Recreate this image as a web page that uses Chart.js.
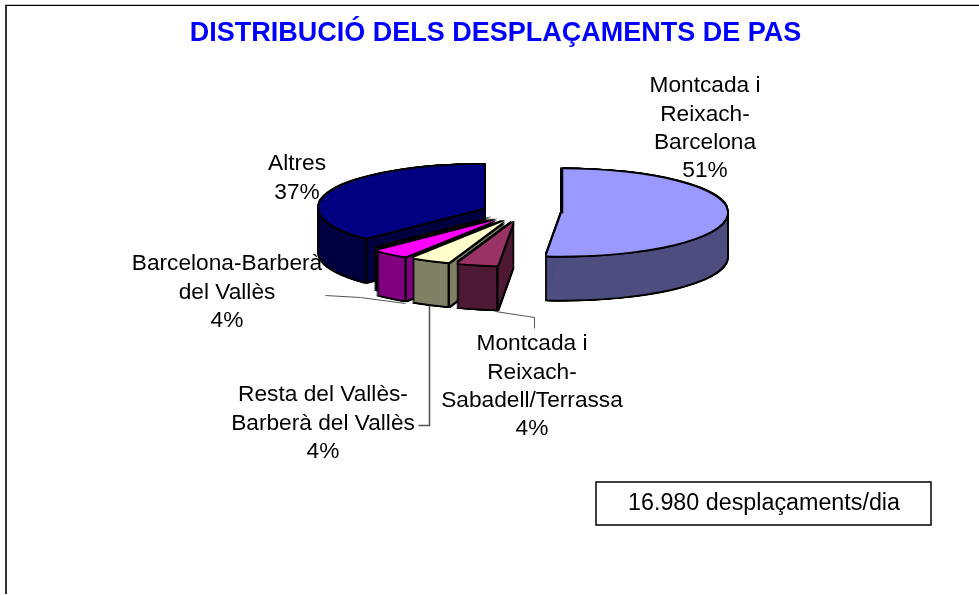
<!DOCTYPE html>
<html>
<head>
<meta charset="utf-8">
<style>
html,body{margin:0;padding:0;background:#fff;width:979px;height:595px;overflow:hidden}
#frame{position:absolute;left:5px;top:5px;width:972px;height:588px;border-left:2px solid #333;border-top:1px solid #000;box-shadow:0 -1px 0 #c4c4c4}
#c{position:absolute;left:12px;top:5px}
</style>
<script src="https://cdn.jsdelivr.net/npm/chart.js@4"></script>
</head>
<body>
<div id="frame"></div>
<canvas id="c" width="967" height="590"></canvas>
<script>
const titleText = 'DISTRIBUCIÓ DELS DESPLAÇAMENTS DE PAS';
const categories = ['Montcada i Reixach-Barcelona','Montcada i Reixach-Sabadell/Terrassa','Resta del Vallès-Barberà del Vallès','Barcelona-Barberà del Vallès','Altres'];
const values = [51.49, 3.9, 3.8, 3.5, 37.31];
const topColors = ['#9999FF','#993366','#FFFFCC','#FF00FF','#000080'];
const wallColors = ['#4D4D80','#4D1933','#808066','#800080','#000040'];
const labelLines = [
  ['Montcada i','Reixach-','Barcelona'],
  ['Montcada i','Reixach-','Sabadell/Terrassa'],
  ['Resta del Vallès-','Barberà del Vallès'],
  ['Barcelona-Barberà','del Vallès'],
  ['Altres']
];
const noteText = '16.980 desplaçaments/dia';

const labelPos = [[705,86],[532,344],[323,395],[227,264],[297,164]];
const leaders = [
  [[495,311],[534,317],[534,328]],
  [[429,305],[429,425],[418,425]],
  [[325,295],[360,297],[405,303]]
];
const leaderWidths = [1, 1.6, 1];
const canvasLeft = 12, canvasTop = 5;
const pieShiftX = 26;
const squash = 0.262, depth = 44, explode = 40.6, edge = 1.7, lineGap = 28.4;
const shadedSlice = 3, shadeShift = 4;

function stamp(ctx, el, color, dx, dy){
  const h = (el.startAngle + el.endAngle) / 2;
  const saved = el.options;
  el.options = Object.assign({}, saved, {backgroundColor: color, borderWidth: 0, offset: 0, spacing: 0});
  ctx.save();
  ctx.translate(el.x + pieShiftX + Math.cos(h) * explode + dx, el.y + Math.sin(h) * explode * squash + dy);
  ctx.scale(1, squash);
  ctx.translate(-el.x, -el.y);
  el.draw(ctx);
  ctx.restore();
  el.options = saved;
}

const pie3d = {
  id: 'pie3d',
  beforeDatasetsDraw(chart){
    const ctx = chart.ctx;
    ctx.save();
    ctx.strokeStyle = '#555';
    leaders.forEach((pts, n) => {
      ctx.lineWidth = leaderWidths[n];
      ctx.beginPath();
      pts.forEach((p, i) => {
        const x = p[0] - canvasLeft + 0.5, y = p[1] - canvasTop + 0.5;
        if (i) ctx.lineTo(x, y); else ctx.moveTo(x, y);
      });
      ctx.stroke();
    });
    ctx.restore();
    const arcs = chart.getDatasetMeta(0).data;
    for (let i = arcs.length - 1; i >= 1; i--) drawSlice(ctx, arcs[i], i);
    drawSlice(ctx, arcs[0], 0);
    return false;
  },
  afterDraw(chart){
    const ctx = chart.ctx;
    ctx.save();
    ctx.fillStyle = '#000';
    ctx.textAlign = 'center';
    ctx.textBaseline = 'middle';
    ctx.font = '22.7px "Liberation Sans", Arial, sans-serif';
    labelLines.forEach((lines, i) => {
      const all = lines.concat([Math.round(values[i]) + '%']);
      all.forEach((t, j) => ctx.fillText(t, labelPos[i][0] - canvasLeft, labelPos[i][1] - canvasTop + j * lineGap));
    });
    ctx.fillStyle = '#fff';
    ctx.strokeStyle = '#000';
    ctx.lineWidth = 1.5;
    ctx.fillRect(596 - canvasLeft, 482 - canvasTop, 335, 43);
    ctx.strokeRect(596 - canvasLeft, 482 - canvasTop, 335, 43);
    ctx.fillStyle = '#000';
    ctx.font = '23.3px "Liberation Sans", Arial, sans-serif';
    ctx.fillText(noteText, 764 - canvasLeft, 504 - canvasTop);
    ctx.restore();
  }
};

function drawSlice(ctx, el, i){
  const offs = [-edge, 0, edge];
  if (i === shadedSlice) {
    for (let d = -shadeShift; d <= depth - shadeShift; d += 1) stamp(ctx, el, '#000', -shadeShift, d);
  }
  for (let d = -edge; d <= depth + edge; d += 1) offs.forEach(o => stamp(ctx, el, '#000', o, d));
  offs.forEach(o => stamp(ctx, el, '#000', o, depth + edge));
  for (let d = 0; d <= depth; d += 1) stamp(ctx, el, wallColors[i], 0, d);
  offs.forEach(a => offs.forEach(b => stamp(ctx, el, '#000', a, b)));
  stamp(ctx, el, topColors[i], 0, 0);
  // vertical edge at the slice's leading corner
  const h = (el.startAngle + el.endAngle) / 2;
  const x = el.x + pieShiftX + Math.cos(h) * explode + Math.cos(el.startAngle) * el.outerRadius;
  const y = el.y + (Math.sin(h) * explode + Math.sin(el.startAngle) * el.outerRadius) * squash;
  ctx.save();
  ctx.strokeStyle = '#000';
  ctx.lineWidth = 2.4;
  ctx.beginPath();
  ctx.moveTo(x, y);
  ctx.lineTo(x, y + depth);
  ctx.stroke();
  ctx.restore();
}

new Chart(document.getElementById('c'), {
  type: 'pie',
  data: {
    labels: categories,
    datasets: [{data: values, backgroundColor: topColors, borderWidth: 0}]
  },
  options: {
    responsive: false,
    animation: false,
    radius: 165,
    layout: {padding: {left: 0, right: 0, top: 0, bottom: 224.4}},
    plugins: {
      legend: {display: false},
      tooltip: {enabled: false},
      title: {
        display: true,
        text: titleText,
        color: '#0000FF',
        font: {family: '"Liberation Sans", Arial, sans-serif', size: 27, weight: 'bold'},
        padding: {top: 12, bottom: 4}
      }
    }
  },
  plugins: [pie3d]
});
</script>
</body>
</html>
